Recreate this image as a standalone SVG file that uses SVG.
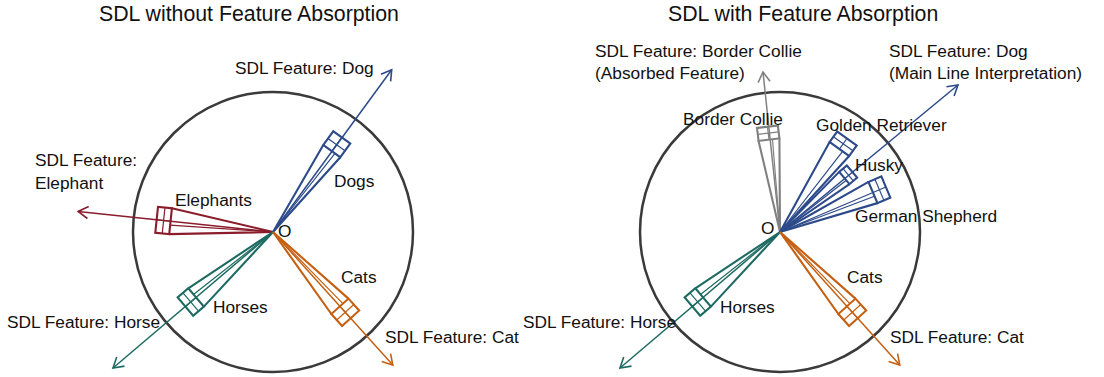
<svg xmlns="http://www.w3.org/2000/svg" width="1104" height="377" viewBox="0 0 1104 377">
<style>
text{font-family:"Liberation Sans","Noto Sans",sans-serif;fill:#111}
.title{font-size:21.3px}
.lbl{font-size:17.3px}
.ring{fill:none;stroke:#3a3a3a;stroke-width:2.5}
.cone path,.cone rect{fill:none;stroke-width:2.1;stroke-linejoin:miter}
.cone .in{stroke-width:1.2}
.conn line{stroke-width:1.5}
.blue{stroke:#2d4a8a}.red{stroke:#8a1c2b}.teal{stroke:#1d6a62}.orange{stroke:#c55f12}.gray{stroke:#808080}
</style>
<defs>
<marker id="ah-blue" viewBox="-12 -8 14 16" refX="0" refY="0" markerWidth="14" markerHeight="16" markerUnits="userSpaceOnUse" orient="auto"><path d="M-10,-6 L0,0 L-10,6" fill="none" stroke="#2d4a8a" stroke-width="1.6"/></marker>
<marker id="ah-red" viewBox="-12 -8 14 16" refX="0" refY="0" markerWidth="14" markerHeight="16" markerUnits="userSpaceOnUse" orient="auto"><path d="M-10,-6 L0,0 L-10,6" fill="none" stroke="#8a1c2b" stroke-width="1.6"/></marker>
<marker id="ah-teal" viewBox="-12 -8 14 16" refX="0" refY="0" markerWidth="14" markerHeight="16" markerUnits="userSpaceOnUse" orient="auto"><path d="M-10,-6 L0,0 L-10,6" fill="none" stroke="#1d6a62" stroke-width="1.6"/></marker>
<marker id="ah-orange" viewBox="-12 -8 14 16" refX="0" refY="0" markerWidth="14" markerHeight="16" markerUnits="userSpaceOnUse" orient="auto"><path d="M-10,-6 L0,0 L-10,6" fill="none" stroke="#c55f12" stroke-width="1.6"/></marker>
<marker id="ah-gray" viewBox="-12 -8 14 16" refX="0" refY="0" markerWidth="14" markerHeight="16" markerUnits="userSpaceOnUse" orient="auto"><path d="M-10,-6 L0,0 L-10,6" fill="none" stroke="#808080" stroke-width="1.6"/></marker>
</defs>

<!-- titles -->
<text class="title" x="99" y="21">SDL without Feature Absorption</text>
<text class="title" x="668" y="21">SDL with Feature Absorption</text>

<!-- circles -->
<g id="space-left"><circle class="ring" cx="273" cy="232" r="140"/><text class="lbl" x="278" y="237">O</text></g>
<g id="space-right"><circle class="ring" cx="780" cy="232" r="140"/><text class="lbl" x="761" y="234">O</text></g>

<!-- connectors (feature arrows) -->
<g id="connectors" class="conn">
<line class="blue" x1="273" y1="232" x2="391.7" y2="69.8" marker-end="url(#ah-blue)"/>
<line class="red" x1="273" y1="232" x2="78.1" y2="211.5" marker-end="url(#ah-red)"/>
<line class="teal" x1="273" y1="232" x2="113" y2="368" marker-end="url(#ah-teal)"/>
<line class="orange" x1="273" y1="232" x2="392.8" y2="365" marker-end="url(#ah-orange)"/>
<line class="gray" x1="780" y1="232" x2="763" y2="72" marker-end="url(#ah-gray)"/>
<line class="blue" x1="780" y1="232" x2="958" y2="85" marker-end="url(#ah-blue)"/>
<line class="teal" x1="780" y1="232" x2="620" y2="368" marker-end="url(#ah-teal)"/>
<line class="orange" x1="780" y1="232" x2="899.8" y2="365" marker-end="url(#ah-orange)"/>
</g>

<!-- left diagram nodes -->
<g id="cone-dogs-left" class="cone">
<g transform="translate(273,232) rotate(-54)">
<path class="blue" d="M0,0 L100,-10.5 M0,0 L100,10.5"/>
<path class="blue in" d="M0,0 L100,4 M100,0 H117"/>
<rect class="blue" x="100" y="-10.5" width="17" height="21"/>
<path class="blue in" d="M108,-10.5 V10.5"/>
</g>
<text class="lbl" x="334" y="187">Dogs</text>
</g>
<g id="cone-elephants" class="cone">
<g transform="translate(273,232) rotate(186)">
<path class="red" d="M0,0 L103,-13 M0,0 L103,13"/>
<path class="red in" d="M0,0 L103,-4 M103,0 H117"/>
<rect class="red" x="103" y="-13" width="14" height="26"/>
<path class="red in" d="M110,-13 V13"/>
</g>
<text class="lbl" x="175" y="206">Elephants</text>
</g>
<g id="cone-horses-left" class="cone">
<g transform="translate(273,232) rotate(139.6)">
<path class="teal" d="M0,0 L101,-12 M0,0 L101,12"/>
<path class="teal in" d="M0,0 L101,4 M101,0 H115"/>
<rect class="teal" x="101" y="-12" width="14" height="24"/>
<path class="teal in" d="M108,-12 V12"/>
</g>
<text class="lbl" x="213" y="313">Horses</text>
</g>
<g id="cone-cats-left" class="cone">
<g transform="translate(273,232) rotate(48)">
<path class="orange" d="M0,0 L100,-11.5 M0,0 L100,11.5"/>
<path class="orange in" d="M0,0 L100,-4 M100,0 H116"/>
<rect class="orange" x="100" y="-11.5" width="16" height="23"/>
<path class="orange in" d="M108,-11.5 V11.5"/>
</g>
<text class="lbl" x="341" y="283">Cats</text>
</g>
<g id="feature-labels-left">
<text class="lbl" x="235" y="74">SDL Feature: Dog</text>
<text class="lbl" x="35" y="166">SDL Feature:</text>
<text class="lbl" x="35" y="189">Elephant</text>
<text class="lbl" x="7" y="328">SDL Feature: Horse</text>
<text class="lbl" x="385" y="343">SDL Feature: Cat</text>
</g>

<!-- right diagram nodes -->
<g id="cone-border-collie" class="cone">
<g transform="translate(780,232) rotate(-96.8)">
<path class="gray" d="M0,0 L93,-10.5 M0,0 L93,10.5"/>
<path class="gray in" d="M0,0 L93,3.5 M93,0 H106"/>
<rect class="gray" x="93" y="-10.5" width="13" height="21"/>
<path class="gray in" d="M99.5,-10.5 V10.5"/>
</g>
<text class="lbl" x="683" y="125">Border Collie</text>
</g>
<g id="cone-golden" class="cone">
<g transform="translate(780,232) rotate(-54.4)">
<path class="blue" d="M0,0 L102,-12 M0,0 L102,12"/>
<path class="blue in" d="M0,0 L102,4 M102,0 H115"/>
<rect class="blue" x="102" y="-12" width="13" height="24"/>
<path class="blue in" d="M108.5,-12 V12"/>
</g>
<text class="lbl" x="816" y="131">Golden Retriever</text>
</g>
<g id="cone-husky" class="cone">
<g transform="translate(780,232) rotate(-40)">
<path class="blue" d="M0,0 L84,-8 M0,0 L84,8"/>
<path class="blue in" d="M0,0 L84,3"/>
<rect class="blue" x="84" y="-8" width="10" height="16"/>
<path class="blue in" d="M89,-8 V8"/>
</g>
<text class="lbl" x="855" y="171">Husky</text>
</g>
<g id="cone-shepherd" class="cone">
<g transform="translate(780,232) rotate(-23)">
<path class="blue" d="M0,0 L101,-11.5 M0,0 L101,11.5"/>
<path class="blue in" d="M0,0 L101,0 L115,0 M0,0 L101,4"/>
<rect class="blue" x="101" y="-11.5" width="14" height="23"/>
<path class="blue in" d="M108,-11.5 V11.5"/>
</g>
<text class="lbl" x="855" y="222">German Shepherd</text>
</g>
<g id="cone-horses-right" class="cone">
<g transform="translate(780,232) rotate(139.6)">
<path class="teal" d="M0,0 L101,-12 M0,0 L101,12"/>
<path class="teal in" d="M0,0 L101,4 M101,0 H115"/>
<rect class="teal" x="101" y="-12" width="14" height="24"/>
<path class="teal in" d="M108,-12 V12"/>
</g>
<text class="lbl" x="720" y="313">Horses</text>
</g>
<g id="cone-cats-right" class="cone">
<g transform="translate(780,232) rotate(48)">
<path class="orange" d="M0,0 L100,-11.5 M0,0 L100,11.5"/>
<path class="orange in" d="M0,0 L100,-4 M100,0 H116"/>
<rect class="orange" x="100" y="-11.5" width="16" height="23"/>
<path class="orange in" d="M108,-11.5 V11.5"/>
</g>
<text class="lbl" x="847" y="283">Cats</text>
</g>
<g id="feature-labels-right">
<text class="lbl" x="595" y="57">SDL Feature: Border Collie</text>
<text class="lbl" x="595" y="79">(Absorbed Feature)</text>
<text class="lbl" x="889" y="57">SDL Feature: Dog</text>
<text class="lbl" x="889" y="79">(Main Line Interpretation)</text>
<text class="lbl" x="523" y="328">SDL Feature: Horse</text>
<text class="lbl" x="890" y="343">SDL Feature: Cat</text>
</g>
</svg>
